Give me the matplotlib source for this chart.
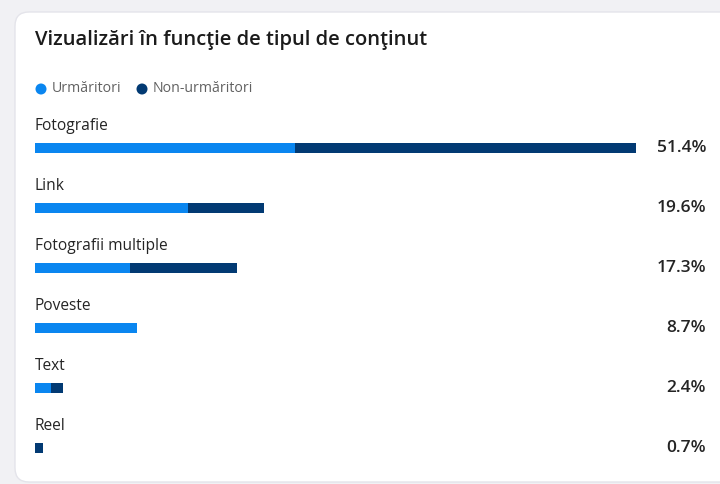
import matplotlib
matplotlib.use("Agg")
import matplotlib.pyplot as plt
from matplotlib.patches import FancyBboxPatch, Circle

categories = ["Fotografie", "Link", "Fotografii multiple", "Poveste", "Text", "Reel"]
followers = [22.2, 13.1, 8.1, 8.7, 1.4, 0.0]
non_followers = [29.2, 6.5, 9.2, 0.0, 1.0, 0.7]
totals_labels = ["51.4%", "19.6%", "17.3%", "8.7%", "2.4%", "0.7%"]
legend_labels = ["Urmăritori", "Non-urmăritori"]
title = "Vizualizări în funcţie de tipul de conţinut"

C_LIGHT = "#0a86f0"
C_DARK = "#023a73"

plt.rcParams['font.family'] = ['Open Sans', 'DejaVu Sans']

W, H = 720, 484
fig = plt.figure(figsize=(W / 100, H / 100), dpi=100)
fig.patch.set_facecolor("#f1f1f4")

# card background
bg = fig.add_axes([0, 0, 1, 1])
bg.set_xlim(0, W)
bg.set_ylim(H, 0)
bg.axis("off")
card = FancyBboxPatch((15, 12), 720, 470, boxstyle="round,pad=0,rounding_size=14",
                      facecolor="white", edgecolor="#e4e4ea", linewidth=1.0)
bg.add_patch(card)

bg.text(35, 40, title, fontsize=14.5, fontweight="semibold", color="#1b1b1b",
        va="center", ha="left")

# legend
bg.add_patch(Circle((41, 89), 5.5, facecolor=C_LIGHT, edgecolor="none"))
bg.text(52, 89, legend_labels[0], fontsize=10.2, color="#616161", va="center", ha="left")
bg.add_patch(Circle((142, 89), 5.5, facecolor=C_DARK, edgecolor="none"))
bg.text(153, 89, legend_labels[1], fontsize=10.2, color="#616161", va="center", ha="left")

# bars axes: x pixels 35..636 map to 0..max total
totals = [f + n for f, n in zip(followers, non_followers)]
x0_px, x1_px = 35, 636
ax = fig.add_axes([x0_px / W, 0, (x1_px - x0_px) / W, 1])
ax.set_facecolor("none")
first_px, step_px = 148, 60
ax.set_xlim(0, max(totals))
ax.set_ylim((H - first_px) / step_px, (0 - first_px) / step_px)
ax.axis("off")

ypos = list(range(len(categories)))
ax.barh(ypos, followers, height=10 / step_px, color=C_LIGHT, linewidth=0)
ax.barh(ypos, non_followers, left=followers, height=10 / step_px, color=C_DARK, linewidth=0)

for i, (cat, lab) in enumerate(zip(categories, totals_labels)):
    ax.text(0, i - 22 / step_px, cat, fontsize=11.2, color="#242424", va="center", ha="left")
    bg.text(706, first_px + i * step_px, lab, fontsize=12.5, fontweight="semibold",
            color="#242424", va="center", ha="right")

fig.savefig("out.png", dpi=100, facecolor=fig.get_facecolor())
